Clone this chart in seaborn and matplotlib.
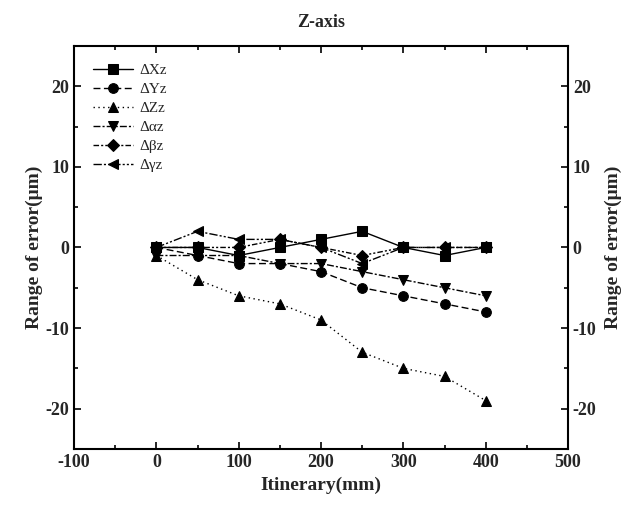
import matplotlib
matplotlib.use("Agg")
import matplotlib.pyplot as plt
from matplotlib.ticker import MultipleLocator
import seaborn as sns
import pandas as pd

itinerary = [0, 50, 100, 150, 200, 250, 300, 350, 400]
dXz = [0, 0, -1, 0, 1, 2, 0, -1, 0]
dYz = [0, -1, -2, -2, -3, -5, -6, -7, -8]
dZz = [-1, -4, -6, -7, -9, -13, -15, -16, -19]
daz = [-1, -1, -1, -2, -2, -3, -4, -5, -6]
dbz = [0, 0, 0, 1, 0, -1, 0, 0, 0]
dgz = [0, 2, 1, 1, 0, -2, 0, 0, 0]
labels = ["ΔXz", "ΔYz", "ΔZz", "Δαz", "Δβz", "Δγz"]
series = [dXz, dYz, dZz, daz, dbz, dgz]

sns.set_theme(style="white")
plt.rcParams['font.family'] = ['Liberation Serif', 'DejaVu Serif']
plt.rcParams['mathtext.fontset'] = 'stix'
plt.rcParams['axes.unicode_minus'] = False

markers = ['s', 'o', '^', 'v', 'D', '<']
msizes = [6.5, 7, 7.5, 7.5, 6, 7.5]
styles = ['-', (0, (5, 2.5)), (0, (1, 2.5)), (0, (5, 1.5, 1.5, 1.5)),
          (0, (4, 1.5, 1.5, 1.5, 1.5, 1.5)), (0, (6, 1.5, 1.5, 1.5, 1.5, 1.5))]

fig = plt.figure(figsize=(6.44, 5.05), dpi=100)
ax = fig.add_axes([0.115, 0.111, 0.767, 0.798])

for lab, vals, m, ms, ls in zip(labels, series, markers, msizes, styles):
    df = pd.DataFrame({"x": itinerary, "y": vals})
    sns.lineplot(data=df, x="x", y="y", ax=ax, color="black", marker=m,
                 markersize=ms, markeredgecolor="black", linewidth=1.0,
                 linestyle=ls, label=lab)

ax.set_xlim(-100, 500)
ax.set_ylim(-25, 25)
ax.xaxis.set_major_locator(MultipleLocator(100))
ax.xaxis.set_minor_locator(MultipleLocator(50))
ax.yaxis.set_major_locator(MultipleLocator(10))
ax.yaxis.set_minor_locator(MultipleLocator(5))
ax.tick_params(which='both', direction='in', top=True, bottom=True, left=True,
               right=False, color='black')
ax.tick_params(which='major', length=5, width=1.2, labelsize=13)
ax.tick_params(which='minor', length=3, width=1.2)
for sp in ax.spines.values():
    sp.set_color('black')
    sp.set_linewidth(1.5)
for t in ax.get_xticklabels() + ax.get_yticklabels():
    t.set_fontweight('bold')

ax.set_xlabel("Itinerary(mm)", fontsize=14, fontweight='bold', labelpad=4)
ax.set_ylabel("Range of error(μm)", fontsize=14, fontweight='bold', labelpad=2)
ax.set_title("Z-axis", fontsize=13, fontweight='bold', pad=14)

ax2 = ax.twinx()
ax2.set_ylim(-25, 25)
ax2.yaxis.set_major_locator(MultipleLocator(10))
ax2.yaxis.set_minor_locator(MultipleLocator(5))
ax2.tick_params(which='both', direction='in', right=True, left=False, color='black')
ax2.tick_params(which='major', length=5, width=1.2, labelsize=13)
ax2.tick_params(which='minor', length=3, width=1.2)
for t in ax2.get_yticklabels():
    t.set_fontweight('bold')
ax2.set_ylabel("Range of error(μm)", fontsize=14, fontweight='bold', labelpad=6)
for sp in ax2.spines.values():
    sp.set_visible(False)

leg = ax.legend(loc='upper left', bbox_to_anchor=(0.02, 0.98), frameon=False,
                fontsize=11, handlelength=2.6, handletextpad=0.4,
                labelspacing=0.35, borderaxespad=0.2)

fig.savefig("out.png", dpi=100)
